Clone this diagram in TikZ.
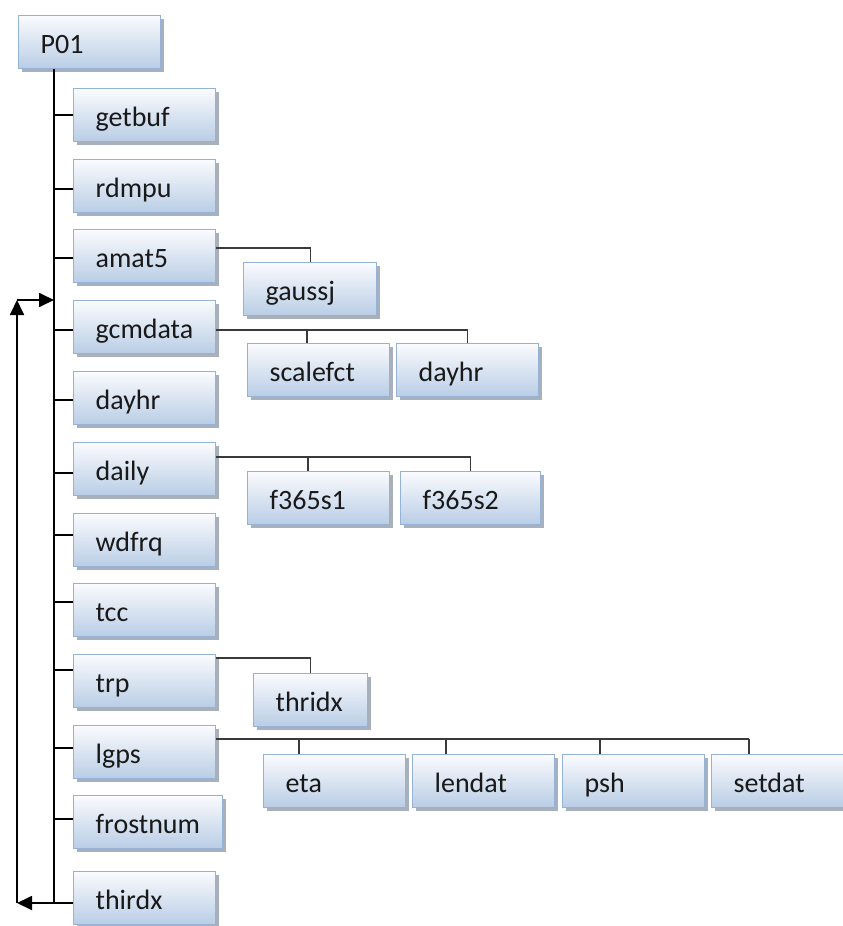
\documentclass[tikz,border=0pt]{standalone}
\usepackage{fontspec}
\setmainfont{Carlito}
\usetikzlibrary{arrows.meta,shadows}
\definecolor{boxtop}{HTML}{FAFBFE}
\definecolor{boxbot}{HTML}{B9CDE5}
\definecolor{boxline}{HTML}{95B3D7}
\definecolor{boxshade}{HTML}{98A2AF}
\definecolor{linkgray}{HTML}{3A3A3A}
\tikzset{
  modbox/.style={draw=boxline, line width=1.3pt, top color=boxtop, bottom color=boxbot,
    drop shadow={shadow xshift=3pt, shadow yshift=-3pt, fill=boxshade, opacity=.85},
    anchor=north west, minimum height=53pt, inner xsep=0pt, inner ysep=0pt,
    text width=#1, align=left, font=\fontsize{28}{30}\selectfont, text=black!90,
    text height=24pt, text depth=2pt, execute at begin node=\hspace*{22pt}},
  modbox/.default=142pt,
  trunk/.style={draw=black, line width=1.4pt},
  link/.style={draw=linkgray, line width=1.1pt},
  backline/.style={draw=black, line width=1.8pt, -{Triangle[length=15pt,width=14pt]}}
}

\begin{document}
\begin{tikzpicture}[x=1pt,y=-1pt]
\useasboundingbox (0,0) rectangle (843,926);
% main column
\node[modbox] (P01) at (18,15) {P01};
\node[modbox] (getbuf) at (73,88) {getbuf};
\node[modbox] (rdmpu) at (73,159) {rdmpu};
\node[modbox] (amat5) at (73,229) {amat5};
\node[modbox] (gcmdata) at (73,300) {gcmdata};
\node[modbox] (dayhr) at (73,371) {dayhr};
\node[modbox] (daily) at (73,442) {daily};
\node[modbox] (wdfrq) at (73,513) {wdfrq};
\node[modbox] (tcc) at (73,583) {tcc};
\node[modbox] (trp) at (73,654) {trp};
\node[modbox] (lgps) at (73,725) {lgps};
\node[modbox=149pt] (frostnum) at (73,795) {frostnum};
\node[modbox] (thirdx) at (73,871) {thirdx};
% called routines
\node[modbox=133pt] (gaussj) at (243,262) {gaussj};
\node[modbox] (scalefct) at (247,343) {scalefct};
\node[modbox] (dayhrb) at (396,343) {dayhr};
\node[modbox] (f365sa) at (247,471) {f365s1};
\node[modbox=140pt] (f365sb) at (400,471) {f365s2};
\node[modbox=114pt] (thridx) at (253,673) {thridx};
\node[modbox] (eta) at (263,754) {eta};
\node[modbox] (lendat) at (412,754) {lendat};
\node[modbox] (psh) at (562,754) {psh};
\node[modbox] (setdat) at (711,754) {setdat};

% trunk
\draw[trunk] (P01.south -| 54,0) -- (54,903);
\foreach \n/\y in {getbuf/115,rdmpu/189,amat5/258,gcmdata/330,dayhr/400,daily/473,
  wdfrq/535,tcc/602,trp/670,lgps/748,frostnum/819,thirdx/903}
  \draw[trunk] (54,\y) -- (\n.west |- 0,\y);

% branches
\draw[link] (amat5.east |- 0,248) -| (gaussj.north);
\draw[link] (gcmdata.east |- 0,330) -| (dayhrb.north);
\draw[link] (307,330) -- (scalefct.north -| 307,0);
\draw[link] (daily.east |- 0,457) -| (f365sb.north);
\draw[link] (308,457) -- (f365sa.north -| 308,0);
\draw[link] (trp.east |- 0,658) -| (thridx.north);
\draw[link] (lgps.east |- 0,739) -- (749,739);
\foreach \n/\x in {eta/299,lendat/446,psh/600,setdat/749}
  \draw[link] (\x,739) -- (\n.north -| \x,0);

% loop back
\coordinate (loopbot) at (17,903);
\coordinate (looptop) at (17,300);
\coordinate (loopend) at (54,300);
\draw[backline] (thirdx.west |- loopbot) -- (loopbot);
\draw[backline] (loopbot) -- (looptop);
\draw[backline] (looptop) -- (loopend);
\end{tikzpicture}
\end{document}
